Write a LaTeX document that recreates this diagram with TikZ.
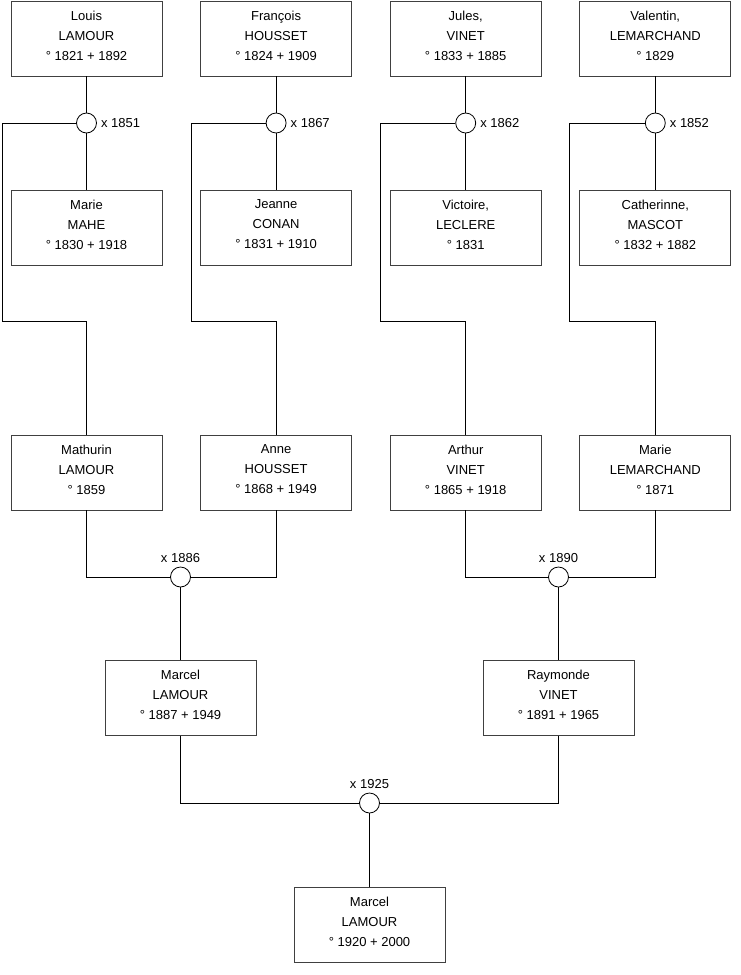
\documentclass[tikz,border=0pt]{standalone}
\usepackage{fontspec}
\setmainfont{Liberation Sans}
\usetikzlibrary{positioning}

\begin{document}
\begin{tikzpicture}[x=1pt, y=-1pt, node distance=37.8pt and 37.8pt,
  every node/.style={font=\fontsize{13}{20}\selectfont},
  person/.style={draw=black!75, line width=0.8pt, minimum width=151pt, minimum height=75pt, align=center, text depth=6pt, inner sep=2pt},
  wed/.style={draw, circle, fill=white, line width=0.8pt, minimum size=20pt, inner sep=0pt},
  year/.style={inner sep=0pt},
  link/.style={line width=0.8pt}]
  \useasboundingbox (0,0) rectangle (740,975);
  % top row
  \node[person] (louis) at (86.5,38.5) {Louis\\LAMOUR\\° 1821 + 1892};
  \node[person, right=of louis] (francois) {François\\HOUSSET\\° 1824 + 1909};
  \node[person, right=of francois] (jules) {Jules,\\VINET\\° 1833 + 1885};
  \node[person, right=of jules] (valentin) {Valentin,\\LEMARCHAND\\° 1829};
  % second row
  \node[person] (marie) at (86.5,227.5) {Marie\\MAHE\\° 1830 + 1918};
  \node[person, right=of marie] (jeanne) {Jeanne\\CONAN\\° 1831 + 1910};
  \node[person, right=of jeanne] (victoire) {Victoire,\\LECLERE\\° 1831};
  \node[person, right=of victoire] (catherinne) {Catherinne,\\MASCOT\\° 1832 + 1882};
  % children
  \node[person] (mathurin) at (86.5,472.5) {Mathurin\\LAMOUR\\° 1859};
  \node[person, right=of mathurin] (anne) {Anne\\HOUSSET\\° 1868 + 1949};
  \node[person, right=of anne] (arthur) {Arthur\\VINET\\° 1865 + 1918};
  \node[person, right=of arthur] (marieL) {Marie\\LEMARCHAND\\° 1871};
  \node[person] (marcel) at (180.5,698) {Marcel\\LAMOUR\\° 1887 + 1949};
  \node[person] (raymonde) at (558.5,698) {Raymonde\\VINET\\° 1891 + 1965};
  \node[person] (marcelj) at (369.5,925) {Marcel\\LAMOUR\\° 1920 + 2000};

  % marriages
  \node[wed] (w1851) at (louis |- 0,123) {};
  \node[wed] (w1867) at (francois |- 0,123) {};
  \node[wed] (w1862) at (jules |- 0,123) {};
  \node[wed] (w1852) at (valentin |- 0,123) {};
  \node[year, right=4pt of w1851] (y1851) {x 1851};
  \node[year, right=4pt of w1867] (y1867) {x 1867};
  \node[year, right=4pt of w1862] (y1862) {x 1862};
  \node[year, right=4pt of w1852] (y1852) {x 1852};
  \node[wed] (w1886) at (marcel |- 0,577) {};
  \node[wed] (w1890) at (raymonde |- 0,577) {};
  \node[wed] (w1925) at (marcelj |- 0,803) {};
  \node[year, above=4pt of w1886] (y1886) {x 1886};
  \node[year, above=4pt of w1890] (y1890) {x 1890};
  \node[year, above=4pt of w1925] (y1925) {x 1925};

  \coordinate (k1851) at (2,321);
  \coordinate (k1867) at (191,321);
  \coordinate (k1862) at (380,321);
  \coordinate (k1852) at (569,321);

  \draw[link] (louis) -- (w1851) -- (marie);
  \draw[link] (francois) -- (w1867) -- (jeanne);
  \draw[link] (jules) -- (w1862) -- (victoire);
  \draw[link] (valentin) -- (w1852) -- (catherinne);
  \draw[link] (w1851.west) -| (k1851) -| (mathurin.north);
  \draw[link] (w1867.west) -| (k1867) -| (anne.north);
  \draw[link] (w1862.west) -| (k1862) -| (arthur.north);
  \draw[link] (w1852.west) -| (k1852) -| (marieL.north);

  \draw[link] (mathurin.south) |- (w1886.west);
  \draw[link] (anne.south) |- (w1886.east);
  \draw[link] (w1886) -- (marcel);
  \draw[link] (arthur.south) |- (w1890.west);
  \draw[link] (marieL.south) |- (w1890.east);
  \draw[link] (w1890) -- (raymonde);
  \draw[link] (marcel.south) |- (w1925.west);
  \draw[link] (raymonde.south) |- (w1925.east);
  \draw[link] (w1925) -- (marcelj);
\end{tikzpicture}
\end{document}
